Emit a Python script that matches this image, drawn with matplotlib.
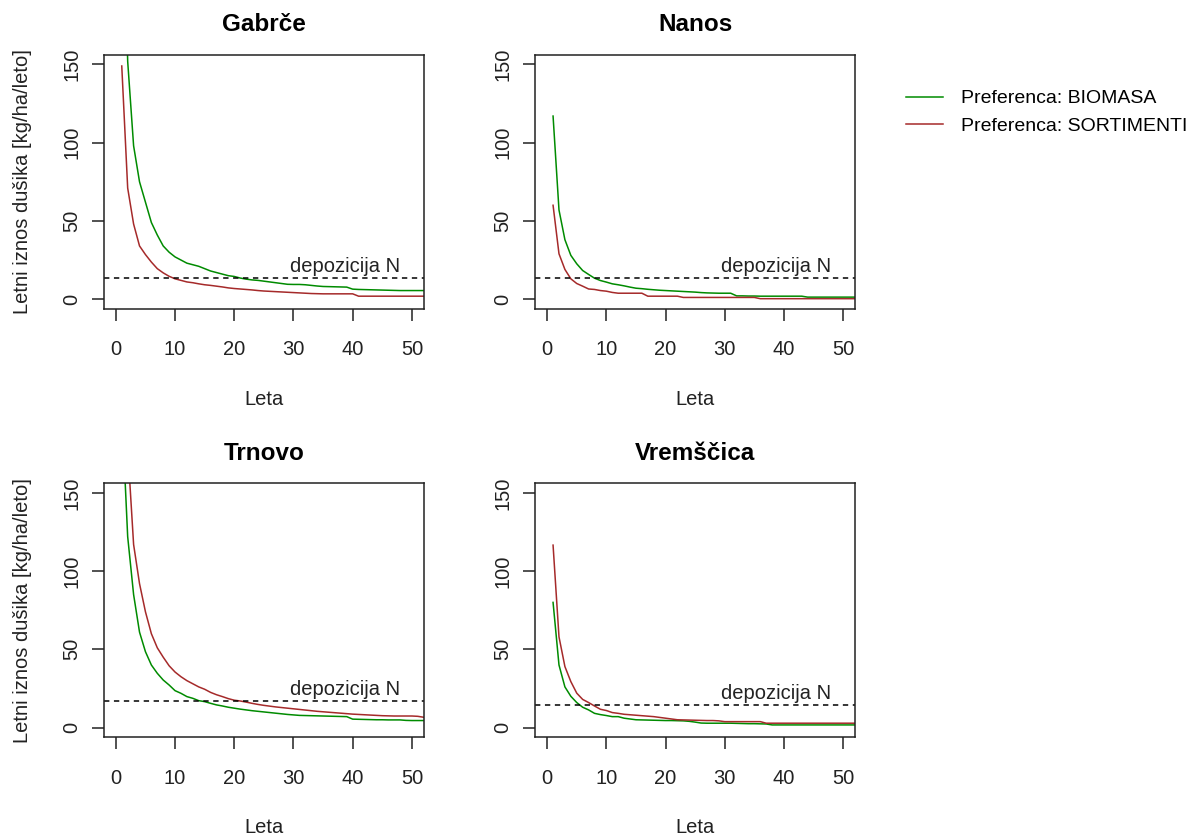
import numpy as np
import matplotlib
matplotlib.use("Agg")
import matplotlib.pyplot as plt

plt.rcParams['font.family'] = ['Liberation Sans', 'DejaVu Sans']
plt.rcParams['font.size'] = 14.5

leta = np.arange(1, 53)

gabrce_bio = [300, 152, 98, 75, 62, 49, 41, 34, 30, 27,
              25, 23, 22, 21, 19.5, 18, 17, 16, 15, 14.5,
              13.5, 12.8, 12.3, 12, 11.5, 11, 10.5, 10, 9.5, 9.4,
              9.4, 9.2, 8.8, 8.4, 8.1, 8, 7.9, 7.8, 7.7, 6.4,
              6.2, 6.1, 6, 5.9, 5.8, 5.7, 5.6, 5.5, 5.5, 5.5,
              5.5, 5.5]
gabrce_sort = [149, 71, 48, 34, 28.5, 23.7, 19.5, 16.8, 14.6, 13,
               12, 11, 10.5, 9.8, 9.2, 8.8, 8.3, 7.8, 7.2, 6.8,
               6.5, 6.2, 5.9, 5.5, 5.2, 5, 4.8, 4.6, 4.4, 4.2,
               4, 3.8, 3.6, 3.5, 3.4, 3.4, 3.4, 3.4, 3.4, 3.4,
               1.9, 1.9, 1.9, 1.9, 1.9, 1.9, 1.9, 1.9, 1.9, 1.9,
               1.9, 1.9]

nanos_bio = [117, 57, 38, 28, 22.6, 18.3, 15.8, 13.4, 11.9, 10.9,
             9.8, 9.2, 8.5, 7.7, 7, 6.7, 6.3, 6, 5.7, 5.5,
             5.3, 5.1, 4.9, 4.7, 4.5, 4.2, 4, 3.9, 3.8, 3.8,
             3.8, 2.1, 2.1, 2, 2, 1.9, 1.9, 1.9, 1.9, 1.9,
             1.9, 1.9, 1.9, 1.3, 1.3, 1.3, 1.3, 1.3, 1.3, 1.3,
             1.3, 1.3]
nanos_sort = [60, 29, 19, 13, 10, 8.3, 6.5, 6.2, 5.5, 5.1,
              4.3, 3.8, 3.8, 3.8, 3.8, 3.8, 1.9, 1.9, 1.9, 1.9,
              1.9, 1.9, 1.1, 1.1, 1.1, 1.1, 1.1, 1.1, 1.1, 1.1,
              1.1, 1.1, 1.1, 1.1, 1.1, 0.3, 0.3, 0.3, 0.3, 0.3,
              0.3, 0.3, 0.3, 0.3, 0.3, 0.3, 0.3, 0.3, 0.3, 0.3,
              0.3, 0.3]

trnovo_bio = [204, 122, 85, 61, 48.5, 40, 34.7, 30.4, 27.2, 23.6,
              21.9, 19.8, 18.7, 17.2, 16.6, 15.5, 14.5, 13.8, 13, 12.4,
              11.8, 11.3, 10.8, 10.4, 10, 9.6, 9.2, 8.8, 8.4, 8.1,
              7.8, 7.7, 7.6, 7.5, 7.4, 7.3, 7.2, 7.1, 7, 5.4,
              5.3, 5.2, 5.1, 5, 5, 4.9, 4.9, 4.9, 4.6, 4.5,
              4.5, 4.5]
trnovo_sort = [360, 179, 117, 92, 74, 60, 51, 45, 39.5, 35.5,
               32.5, 30, 28, 26, 24.5, 22.5, 21, 19.8, 18.5, 17.5,
               17, 16.3, 15.5, 14.8, 14.2, 13.7, 13.2, 12.8, 12.4, 12,
               11.6, 11.2, 10.8, 10.4, 10.1, 9.8, 9.5, 9.2, 8.9, 8.6,
               8.4, 8.2, 8, 7.8, 7.6, 7.5, 7.4, 7.4, 7.4, 7.4,
               7.2, 6.6]

vremscica_bio = [80, 40, 26, 20, 16, 13, 11.3, 9.1, 8.3, 7.7,
                 7, 7, 6, 5.5, 5, 4.9, 4.8, 4.7, 4.6, 4.5,
                 4.5, 4.4, 4.3, 4, 3.5, 2.9, 2.8, 2.8, 2.8, 2.8,
                 2.8, 2.7, 2.6, 2.5, 2.5, 2.4, 2.3, 1.7, 1.7, 1.7,
                 1.7, 1.7, 1.7, 1.7, 1.7, 1.7, 1.7, 1.7, 1.7, 1.7,
                 1.7, 1.7]
vremscica_sort = [116.6, 58, 39, 29.4, 22, 18, 16, 13.8, 11.7, 10.9,
                  9.6, 9.1, 8.5, 8.2, 7.9, 7.6, 7.3, 7, 6.5, 6,
                  5.5, 5, 4.9, 4.8, 4.7, 4.6, 4.5, 4.5, 4.3, 3.8,
                  3.8, 3.8, 3.8, 3.8, 3.8, 3.8, 2.8, 2.8, 2.8, 2.8,
                  2.8, 2.8, 2.8, 2.8, 2.8, 2.8, 2.8, 2.8, 2.8, 2.8,
                  2.8, 2.8]

lokacije = ['Gabrče', 'Nanos', 'Trnovo', 'Vremščica']
biomasa = [gabrce_bio, nanos_bio, trnovo_bio, vremscica_bio]
sortimenti = [gabrce_sort, nanos_sort, trnovo_sort, vremscica_sort]
depozicija = [13.4, 13.4, 17, 14.3]

fig, axs = plt.subplots(2, 2, figsize=(11.94, 8.39), dpi=100)
plt.subplots_adjust(left=0.0871, right=0.7161, top=0.9344, bottom=0.1216,
                    wspace=0.349, hspace=0.69)

for i, ax in enumerate(axs.flat):
    l1, = ax.plot(leta, biomasa[i], color='#008B00', lw=1.1)
    l2, = ax.plot(leta, sortimenti[i], color='#A52A2A', lw=1.1)
    ax.axhline(depozicija[i], color='black', lw=1.1, dashes=(3.5, 3))
    ax.annotate('depozicija N', (38.7, depozicija[i]), xytext=(0, 1.5),
                textcoords='offset points', ha='center', va='bottom',
                color='#222222')
    ax.set_xlim(-2, 52)
    ax.set_ylim(-6, 156)
    ax.set_xticks([0, 10, 20, 30, 40, 50])
    ax.set_yticks([0, 50, 100, 150])
    ax.set_yticklabels(['0', '50', '100', '150'], rotation=90, va='center')
    ax.tick_params(axis='x', length=8.5, width=1.1, pad=14.5, colors='#222222')
    ax.tick_params(axis='y', length=8.5, width=1.1, pad=8, colors='#222222')
    for s in ax.spines.values():
        s.set_linewidth(1.1)
        s.set_color('#222222')
    ax.set_title(lokacije[i], fontweight='bold', fontsize=17.5, pad=17)
    ax.set_xlabel('Leta', color='#222222')
    ax.xaxis.set_label_coords(0.5, -0.32)
    if i % 2 == 0:
        ax.set_ylabel('Letni iznos dušika [kg/ha/leto]', color='#222222')
        ax.yaxis.set_label_coords(-0.225, 0.5)

fig.legend([l1, l2], ['Preferenca: BIOMASA', 'Preferenca: SORTIMENTI'],
           loc='upper left', bbox_to_anchor=(0.7505, 0.9045), frameon=False,
           borderpad=0, handlelength=1.9, handletextpad=0.95, labelspacing=0.5,
           fontsize=14)

fig.savefig('out.png', dpi=100)
